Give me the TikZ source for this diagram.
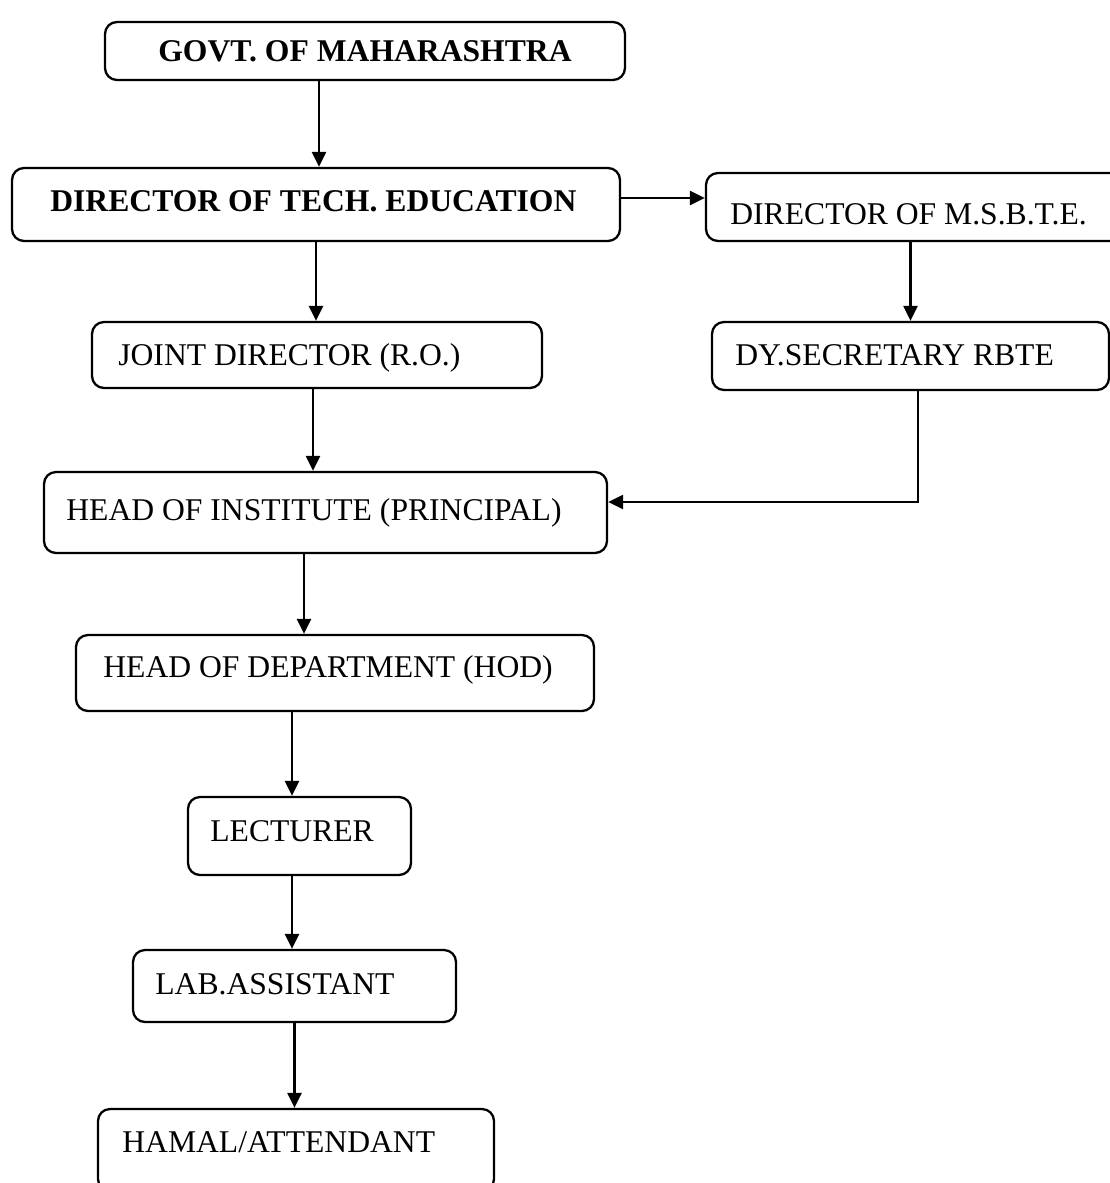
\documentclass[tikz,border=0pt]{standalone}
\usepackage{fontspec}
\setmainfont{Liberation Serif}
\usetikzlibrary{arrows.meta}
\tikzstyle{Box}=[rectangle, rounded corners=0.24cm, draw=black, line width=1.3pt, inner sep=0]
\tikzstyle{Txt}=[anchor=base west, inner sep=0, font=\fontsize{18}{21.6}\selectfont]
\tikzstyle{Arr}=[line width=1.3pt, -{Triangle[length=0.3cm,width=0.28cm]}]

\begin{document}
\begin{tikzpicture}
    \clip (0,0) rectangle (22.2,-23.66);
    \path
    (7.30,-1.02) node[Box, minimum width=10.4cm, minimum height=1.16cm, font=\fontsize{18}{21.6}\selectfont\bfseries] (govt) {GOVT. OF MAHARASHTRA}
    (6.32,-4.09) node[Box, minimum width=12.16cm, minimum height=1.46cm] (dte) {}
    (18.46,-4.14) node[Box, minimum width=8.68cm, minimum height=1.36cm] (msbte) {}
    (6.34,-7.10) node[Box, minimum width=9.0cm, minimum height=1.32cm] (jd) {}
    (18.21,-7.12) node[Box, minimum width=7.94cm, minimum height=1.36cm] (dy) {}
    (6.51,-10.25) node[Box, minimum width=11.26cm, minimum height=1.62cm] (hoi) {}
    (6.70,-13.46) node[Box, minimum width=10.36cm, minimum height=1.52cm] (hod) {}
    (5.99,-16.72) node[Box, minimum width=4.46cm, minimum height=1.56cm] (lect) {}
    (5.89,-19.72) node[Box, minimum width=6.46cm, minimum height=1.44cm] (lab) {}
    (5.92,-23.00) node[Box, minimum width=7.92cm, minimum height=1.64cm] (hamal) {};

    \path
    (1.00,-4.22) node[Txt, font=\fontsize{18}{21.6}\selectfont\bfseries] (dtetxt) {DIRECTOR OF TECH. EDUCATION}
    (14.60,-4.48) node[Txt] (msbtetxt) {DIRECTOR OF M.S.B.T.E.}
    (2.36,-7.30) node[Txt] (jdtxt) {JOINT DIRECTOR (R.O.)}
    (14.70,-7.30) node[Txt] (dytxt) {DY.SECRETARY RBTE}
    (1.32,-10.40) node[Txt] (hoitxt) {HEAD OF INSTITUTE (PRINCIPAL)}
    (2.06,-13.54) node[Txt] (hodtxt) {HEAD OF DEPARTMENT (HOD)}
    (4.20,-16.82) node[Txt] (lecttxt) {LECTURER}
    (3.10,-19.88) node[Txt] (labtxt) {LAB.ASSISTANT}
    (2.44,-23.04) node[Txt] (hamaltxt) {HAMAL/ATTENDANT};

    \draw[Arr] ([xshift=-0.92cm]govt.south) -- ([xshift=-0.92cm]govt.south |- dte.north);
    \draw[Arr] (dte.south) -- (dte.south |- jd.north);
    \draw[Arr] ([yshift=0.13cm]dte.east) -- ([yshift=0.13cm]dte.east -| msbte.west);
    \draw[Arr] (msbte.south -| dy.north) -- (dy.north);
    \draw[Arr] ([xshift=-0.08cm]jd.south) -- ([xshift=-0.08cm]jd.south |- hoi.north);
    \draw[Arr] ([xshift=0.15cm]dy.south) |- ([yshift=0.21cm]hoi.east);
    \draw[Arr] ([xshift=-0.43cm]hoi.south) -- ([xshift=-0.43cm]hoi.south |- hod.north);
    \draw[Arr] ([xshift=-0.86cm]hod.south) -- ([xshift=-0.86cm]hod.south |- lect.north);
    \draw[Arr] ([xshift=-0.15cm]lect.south) -- ([xshift=-0.15cm]lect.south |- lab.north);
    \draw[Arr] (lab.south) -- (lab.south |- hamal.north);
\end{tikzpicture}
\end{document}
